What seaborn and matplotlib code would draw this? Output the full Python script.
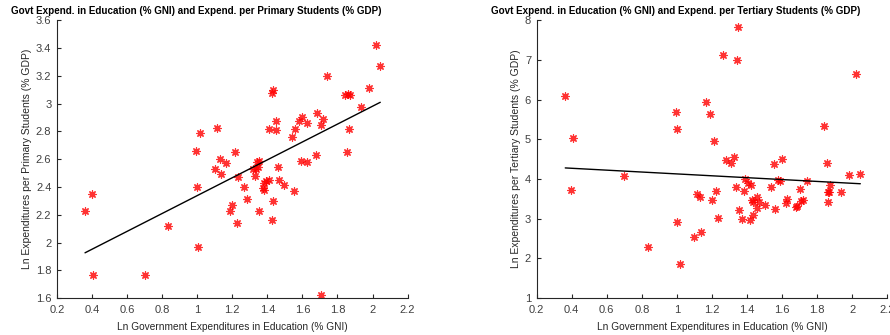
import numpy as np
import pandas as pd
import matplotlib
matplotlib.use("Agg")
import matplotlib.pyplot as plt
import seaborn as sns
from matplotlib.ticker import FormatStrFormatter, MultipleLocator

# Primary-student panel: log government education spending (% GNI)
# against log spending per primary student (% GDP)
prim_gni = [0.36, 0.40, 0.405, 0.70, 0.835, 1.005, 1.00, 0.995, 1.015, 1.11,
            1.10, 1.135, 1.13, 1.165, 1.214, 1.233, 1.265, 1.284, 1.20, 1.186,
            1.226, 1.318, 1.334, 1.347, 1.328, 1.341, 1.352, 1.38, 1.376, 1.38,
            1.408, 1.39, 1.465, 1.497, 1.554, 1.461, 1.43, 1.35, 1.425, 1.594,
            1.628, 1.706, 1.425, 1.435, 1.41, 1.449, 1.45, 1.539, 1.56, 1.58,
            1.60, 1.624, 1.68, 1.685, 1.72, 1.704, 1.738, 1.845, 1.858, 1.87,
            1.864, 1.856, 1.936, 1.978, 2.022, 2.044]
prim_exp = [2.23, 2.35, 1.77, 1.77, 2.12, 1.965, 2.40, 2.66, 2.79, 2.825,
            2.53, 2.49, 2.60, 2.57, 2.65, 2.47, 2.40, 2.31, 2.27, 2.23,
            2.14, 2.53, 2.53, 2.54, 2.48, 2.58, 2.59, 2.43, 2.39, 2.375,
            2.45, 2.44, 2.45, 2.415, 2.37, 2.54, 2.30, 2.23, 2.16, 2.59,
            2.58, 1.62, 3.077, 3.10, 2.82, 2.873, 2.807, 2.756, 2.818, 2.876,
            2.90, 2.857, 2.63, 2.93, 2.886, 2.845, 3.20, 3.058, 3.065, 3.058,
            2.82, 2.65, 2.977, 3.11, 3.42, 3.27]

# Tertiary-student panel
tert_gni = [0.363, 0.407, 0.398, 0.696, 0.834, 0.994, 1.003, 1.003, 1.017, 1.10,
            1.113, 1.138, 1.133, 1.20, 1.224, 1.237, 1.165, 1.186, 1.212, 1.264,
            1.347, 1.345, 1.28, 1.307, 1.328, 1.338, 1.353, 1.372, 1.381, 1.387,
            1.408, 1.425, 1.427, 1.436, 1.414, 1.436, 1.455, 1.455, 1.467, 1.50,
            1.537, 1.554, 1.579, 1.59, 1.56, 1.60, 1.627, 1.623, 1.68, 1.686,
            1.704, 1.71, 1.72, 1.74, 1.841, 1.858, 1.862, 1.87, 1.864, 1.873,
            1.936, 1.98, 2.046, 2.022]
tert_exp = [6.09, 5.04, 3.72, 4.07, 2.29, 5.675, 5.27, 2.91, 1.855, 2.54,
            3.61, 2.67, 3.535, 3.48, 3.71, 3.01, 5.935, 5.63, 4.95, 7.11,
            7.82, 6.99, 4.475, 4.39, 4.55, 3.80, 3.22, 3.00, 3.71, 4.01,
            3.90, 3.84, 3.48, 3.43, 2.96, 3.10, 3.54, 3.28, 3.42, 3.34,
            3.79, 4.37, 3.97, 3.96, 3.25, 4.50, 3.485, 3.39, 3.29, 3.31,
            3.75, 3.44, 3.46, 3.95, 5.33, 4.41, 3.66, 3.66, 3.42, 3.84,
            3.66, 4.09, 4.12, 6.65]

titles = ["Govt Expend. in Education (% GNI) and Expend. per Primary Students (% GDP)",
          "Govt Expend. in Education (% GNI) and Expend. per Tertiary Students (% GDP)"]
xlabel = "Ln Government Expenditures in Education (% GNI)"
ylabels = ["Ln Expenditures per Primary Students (% GDP)",
           "Ln Expenditures per Tertiary Students (% GDP)"]

sns.set_theme(style="ticks")
plt.rcParams["font.family"] = ["Liberation Sans", "DejaVu Sans"]
ink = "#262626"
tick_ink = "#404040"

fig = plt.figure(figsize=(8.9, 3.35), dpi=100)
axes = [fig.add_axes([0.064, 0.110, 0.394, 0.830]),
        fig.add_axes([0.603, 0.110, 0.394, 0.830])]

panels = [
    (pd.DataFrame({"gni": prim_gni, "exp": prim_exp}), (1.6, 3.6), 0.2),
    (pd.DataFrame({"gni": tert_gni, "exp": tert_exp}), (1, 8), 1),
]
title_x = [11 / 890, 491 / 890]

asterisk = (8, 2, 0)
for i, (ax, (df, ylim, ystep)) in enumerate(zip(axes, panels)):
    sns.regplot(data=df, x="gni", y="exp", ax=ax, ci=None, marker=asterisk,
                scatter_kws=dict(s=28, color="#ff0000", linewidths=0.9),
                line_kws=dict(color="black", lw=1.0))
    ax.set_xlim(0.2, 2.2)
    ax.set_ylim(*ylim)
    ax.xaxis.set_major_locator(MultipleLocator(0.2))
    ax.yaxis.set_major_locator(MultipleLocator(ystep))
    ax.xaxis.set_major_formatter(FormatStrFormatter("%g"))
    ax.yaxis.set_major_formatter(FormatStrFormatter("%g"))
    ax.tick_params(direction="in", length=3, width=0.8, colors=ink,
                   labelcolor=tick_ink, labelsize=8)
    ax.tick_params(axis="x", pad=5)
    ax.tick_params(axis="y", pad=4)
    for side in ("left", "bottom"):
        ax.spines[side].set_color(ink)
        ax.spines[side].set_linewidth(0.8)
    sns.despine(ax=ax)
    ax.set_xlabel(xlabel, fontsize=7.3, color=ink, labelpad=5)
    ax.set_ylabel(ylabels[i], fontsize=7.5, color=ink, labelpad=3)
    fig.text(title_x[i], 1 - 11 / 335, titles[i], ha="left", va="center",
             fontsize=7.1, fontweight="bold", color="black")

fig.savefig("out.png", dpi=100)
